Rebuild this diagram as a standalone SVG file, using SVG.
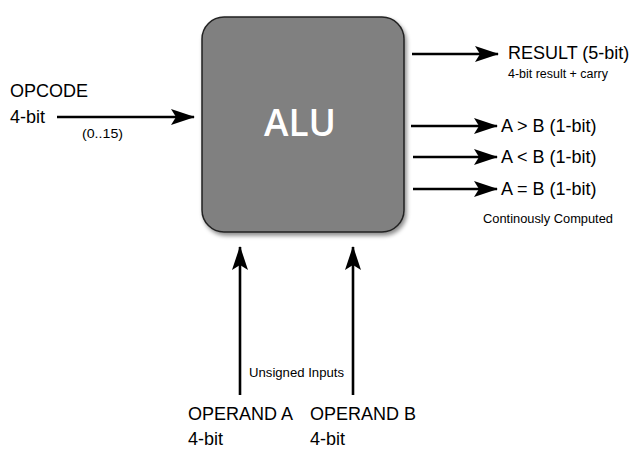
<svg xmlns="http://www.w3.org/2000/svg" width="640" height="464" viewBox="0 0 640 464">
<defs>
<marker id="ah" markerUnits="userSpaceOnUse" markerWidth="24" markerHeight="18" viewBox="0 0 24 18" refX="23" refY="9" orient="auto">
<path d="M0,1 L24,9 L0,17 L5,9 z" fill="#000"/>
</marker>
<filter id="sh" x="-10%" y="-10%" width="130%" height="130%">
<feDropShadow dx="2" dy="3" stdDeviation="2" flood-color="#000" flood-opacity="0.45"/>
</filter>
<style>
.t{font-family:"Liberation Sans",Arial,sans-serif;fill:#000}
.big{font-size:18px}
.sm{font-size:13px}
.xs{font-size:12px}
.c{stroke:#000;stroke-width:2.6;fill:none;marker-end:url(#ah)}
</style>
</defs>
<rect width="640" height="464" fill="#fff"/>
<g id="alu">
<rect x="202" y="17" width="202" height="215" rx="22" ry="22" fill="#808080" stroke="#222" stroke-width="1.5" filter="url(#sh)"/>
<text x="300" y="136" text-anchor="middle" font-family="'Open Sans','DejaVu Sans',sans-serif" font-weight="600" font-size="37" fill="#fff">ALU</text>
</g>
<g id="connectors">
<line class="c" x1="57" y1="117" x2="194" y2="117"/>
<line class="c" x1="412" y1="54" x2="498" y2="54"/>
<line class="c" x1="411" y1="126" x2="497" y2="126"/>
<line class="c" x1="413" y1="157" x2="497" y2="157"/>
<line class="c" x1="413" y1="189" x2="497" y2="189"/>
<line class="c" x1="240" y1="395" x2="240" y2="247"/>
<line class="c" x1="353" y1="395" x2="353" y2="247"/>
</g>
<g id="opcode">
<text class="t big" x="10" y="97">OPCODE</text>
<text class="t big" x="10" y="123">4-bit</text>
<text class="t sm" x="82" y="138" textLength="41" lengthAdjust="spacingAndGlyphs">(0..15)</text>
</g>
<g id="result">
<text class="t big" x="508" y="59">RESULT (5-bit)</text>
<text class="t xs" x="508" y="78" textLength="100" lengthAdjust="spacingAndGlyphs">4-bit result + carry</text>
</g>
<g id="gt"><text class="t big" x="501" y="132">A &gt; B (1-bit)</text></g>
<g id="lt"><text class="t big" x="501" y="163">A &lt; B (1-bit)</text></g>
<g id="eq">
<text class="t big" x="501" y="195">A = B (1-bit)</text>
<text class="t sm" x="483" y="223" textLength="130" lengthAdjust="spacingAndGlyphs">Continously Computed</text>
</g>
<g id="operandA">
<text class="t big" x="188" y="420">OPERAND A</text>
<text class="t big" x="188" y="445">4-bit</text>
</g>
<g id="operandB">
<text class="t big" x="310" y="420">OPERAND B</text>
<text class="t big" x="310" y="445">4-bit</text>
</g>
<text class="t sm" x="249" y="377" textLength="95" lengthAdjust="spacingAndGlyphs">Unsigned Inputs</text>
</svg>
